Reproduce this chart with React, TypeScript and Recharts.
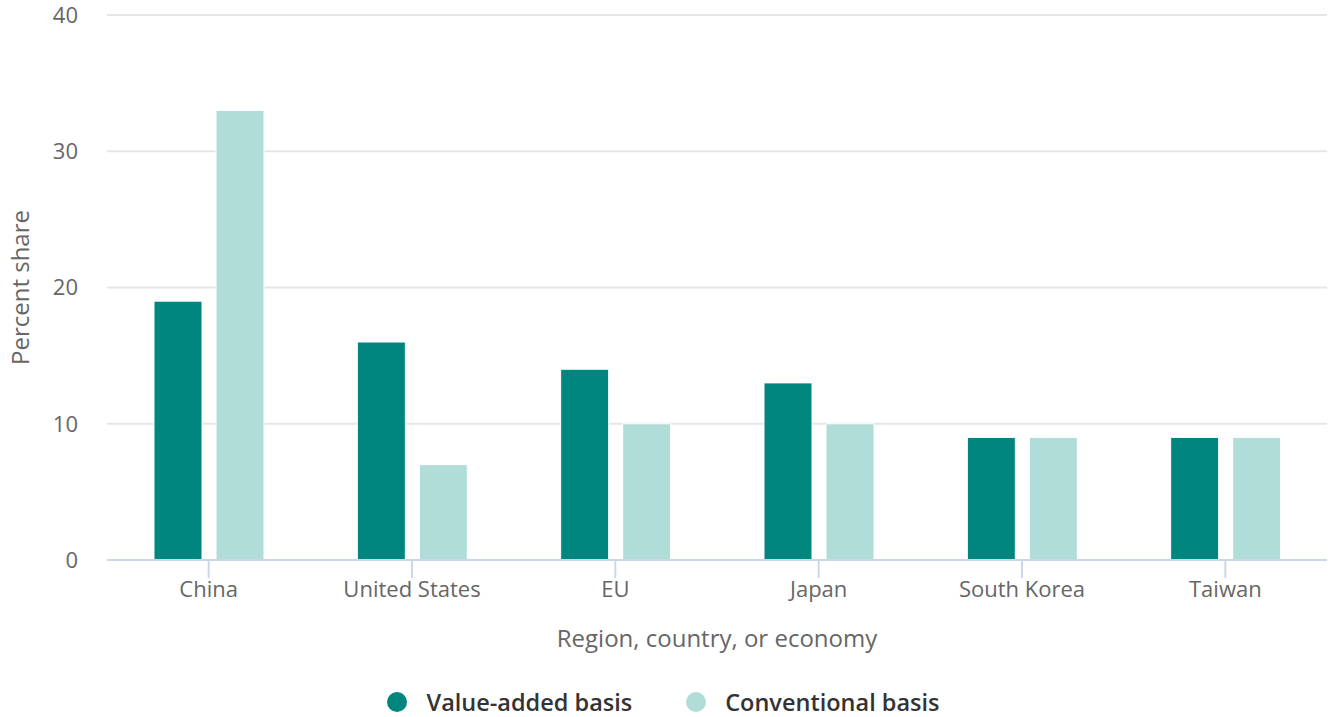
import React from 'react';
import {
  BarChart,
  Bar,
  XAxis,
  YAxis,
  CartesianGrid,
  Legend,
} from 'recharts';

const regions = ['China', 'United States', 'EU', 'Japan', 'South Korea', 'Taiwan'];
const valueAdded = [19, 16, 14, 13, 9, 9];
const conventional = [33, 7, 10, 10, 9, 9];
const yTicks = [0, 10, 20, 30, 40];

const DARK = '#00857f';
const LIGHT = '#b1ddd9';
const FONT = '"Open Sans", "DejaVu Sans", sans-serif';

const data = regions.map((region, i) => ({
  region,
  valueAdded: valueAdded[i],
  conventional: conventional[i],
}));

const legendItems = [
  { label: 'Value-added basis', color: DARK },
  { label: 'Conventional basis', color: LIGHT },
];

const ChartLegend = () => (
  <div
    style={{
      height: 30,
      display: 'flex',
      justifyContent: 'center',
      alignItems: 'center',
      fontFamily: FONT,
      fontSize: 23.5,
      fontWeight: 600,
      color: '#333',
    }}
  >
    {legendItems.map((item, i) => (
      <div key={item.label} style={{ display: 'flex', alignItems: 'center', marginLeft: i > 0 ? 54 : 0 }}>
        <span
          style={{
            width: 20,
            height: 20,
            borderRadius: 10,
            background: item.color,
            display: 'inline-block',
            marginRight: 19,
          }}
        />
        <span>{item.label}</span>
      </div>
    ))}
  </div>
);

const XTitle = ({ viewBox }: any) => (
  <text
    x={viewBox.x + viewBox.width / 2}
    y={viewBox.y + 87}
    textAnchor="middle"
    fill="#666"
    fontSize={24}
    fontFamily={FONT}
  >
    Region, country, or economy
  </text>
);

const YTitle = ({ viewBox }: any) => {
  const cx = 29;
  const cy = viewBox.y + viewBox.height / 2;
  return (
    <text
      x={cx}
      y={cy}
      transform={`rotate(-90, ${cx}, ${cy})`}
      textAnchor="middle"
      fill="#666"
      fontSize={24}
      fontFamily={FONT}
    >
      Percent share
    </text>
  );
};

export default function App() {
  return (
    <div style={{ position: 'absolute', left: 0, top: 0 }}>
      <style>{'body{margin:0}'}</style>
      <BarChart
        width={1331}
        height={717}
        data={data}
        margin={{ top: 15, right: 4, left: 0, bottom: 0 }}
        barSize={48}
        barGap={14}
      >
        <CartesianGrid vertical={false} stroke="#e6e6e6" strokeWidth={2} />
        <XAxis
          dataKey="region"
          height={127}
          stroke="#ccd6eb"
          strokeWidth={2}
          tickSize={18}
          tickMargin={3}
          tick={{ fill: '#666', fontSize: 22, fontFamily: FONT }}
          label={<XTitle />}
        />
        <YAxis
          domain={[0, 40]}
          ticks={yTicks}
          width={107}
          axisLine={false}
          tickLine={false}
          tickSize={6}
          tickMargin={23}
          tick={{ fill: '#666', fontSize: 22, fontFamily: FONT }}
          label={<YTitle />}
        />
        <Legend verticalAlign="bottom" height={30} content={<ChartLegend />} />
        <Bar dataKey="valueAdded" name="Value-added basis" fill={DARK} stroke="#fff" strokeWidth={1} isAnimationActive={false} />
        <Bar dataKey="conventional" name="Conventional basis" fill={LIGHT} stroke="#fff" strokeWidth={1} isAnimationActive={false} />
      </BarChart>
    </div>
  );
}
